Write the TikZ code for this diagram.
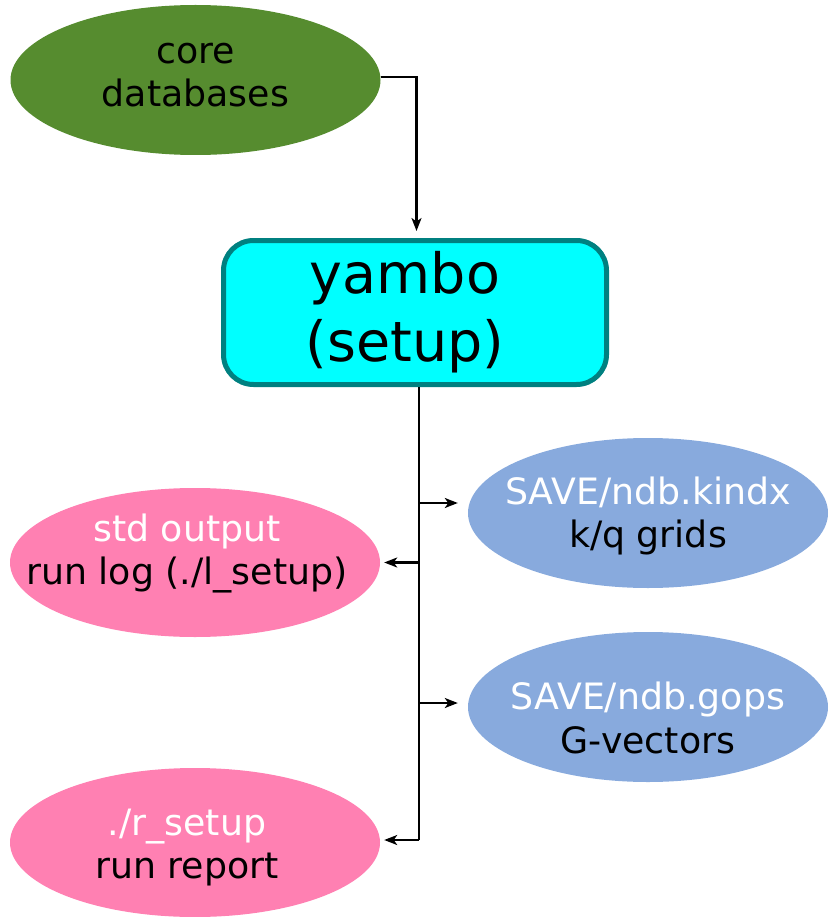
\documentclass[tikz,border=0pt]{standalone}
\usepackage{fontspec}
\setmainfont{DejaVu Sans}
\usepackage{tikz}
\usetikzlibrary{shapes.geometric, calc, positioning, arrows.meta}
\definecolor{coregreen}{RGB}{86,140,47}
\definecolor{outpink}{RGB}{255,128,178}
\definecolor{savblue}{RGB}{136,170,221}
\definecolor{boxteal}{RGB}{0,128,128}
\definecolor{boxcyan}{RGB}{0,255,255}

\begin{document}
\begin{tikzpicture}[x=1pt, y=-1pt,
    blob/.style={ellipse, inner sep=0pt, minimum width=370pt, minimum height=150pt},
    txt/.style={align=center, inner sep=0pt, font=\fontsize{36.3}{43.5}\selectfont},
    runbox/.style={draw=boxteal, fill=boxcyan, line width=5pt, rounded corners=30pt,
      minimum width=383pt, minimum height=144pt, align=center, inner sep=0pt,
      font=\fontsize{55.5}{68}\selectfont},
    conn/.style={line width=2.1pt},
    arr/.style={conn, -{Stealth[length=13pt, width=10pt, inset=3.5pt]}}]
  \useasboundingbox (0,0) rectangle (830,917);
      % inputs and the run
      \node[blob, fill=coregreen] (core) at (195.5,80) {};
      \node[txt, yshift=5pt] (coretxt) at (core) {core\\databases};
      \node[runbox] (setup) at (415,312.5) {yambo\hspace*{20pt}\\(setup)\hspace*{20pt}};
      % outputs
      \node[blob, fill=savblue, minimum width=360pt] (kindx) at (648,513) {};
      \node[txt, yshift=-3pt] (kindxtxt) at (kindx) {\textcolor{white}{SAVE/ndb.kindx}\\k/q grids};
      \node[blob, fill=outpink, minimum height=149pt] (log) at (195,562.5) {};
      \node[txt, xshift=-8pt, yshift=9pt] (logtxt) at (log) {\textcolor{white}{std output}\\run log (./l\_setup)};
      \node[blob, fill=savblue, minimum width=360pt] (gops) at (648,707) {};
      \node[txt, yshift=-11pt] (gopstxt) at (gops) {\textcolor{white}{SAVE/ndb.gops}\\G-vectors};
      \node[blob, fill=outpink, minimum height=149pt] (report) at (195,842.5) {};
      \node[txt, xshift=-8pt, yshift=-5pt] (reporttxt) at (report) {\textcolor{white}{./r\_setup}\\run report};
      % connectors
      \coordinate (trunk) at (419,390);
      \draw[arr, shorten >=7pt] ([yshift=3pt]core.east) -| ([xshift=1.5pt]setup.north);
      \draw[conn] (setup.south -| trunk) -- ([yshift=2.5pt]trunk |- report.east);
      \draw[arr, shorten >=10pt] ([yshift=10pt]kindx.west -| trunk) -- ([yshift=10pt]kindx.west);
      \draw[arr, shorten >=4pt] (log.east -| trunk) -- (log.east);
      \draw[arr, shorten >=10pt] ([yshift=4pt]gops.west -| trunk) -- ([yshift=4pt]gops.west);
      \draw[arr, shorten >=4pt] ([yshift=2.5pt]report.east -| trunk) -- ([yshift=2.5pt]report.east);
    \end{tikzpicture}
\end{document}
